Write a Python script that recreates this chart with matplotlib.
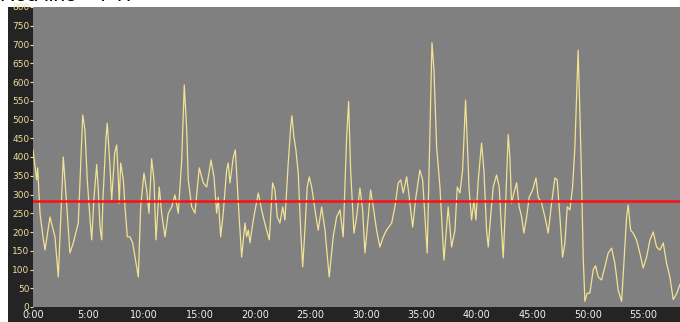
import matplotlib.pyplot as plt
from matplotlib.patches import Rectangle

# elapsed time (minutes) and power (watts)
minutes = [
    0.00, 0.33, 0.42, 0.63, 0.90, 1.08, 1.53, 1.98, 2.28, 2.73, 2.97, 3.33, 3.63, 4.08,
    4.48, 4.68, 4.89, 5.14, 5.29, 5.50, 5.74, 5.88, 6.04, 6.19, 6.31, 6.58, 6.69, 6.94,
    7.09, 7.36, 7.54, 7.68, 7.77, 7.90, 8.14, 8.29, 8.50, 8.74, 8.98, 9.28, 9.49, 9.70,
    10.00, 10.24, 10.45, 10.69, 10.90, 11.08, 11.38, 11.59, 11.89, 12.19, 12.50, 12.79,
    13.09, 13.40, 13.63, 13.85, 13.99, 14.30, 14.59, 14.98, 15.34, 15.65, 16.04, 16.31,
    16.55, 16.69, 16.91, 17.14, 17.45, 17.59, 17.75, 18.05, 18.23, 18.50, 18.80, 19.10,
    19.25, 19.40, 19.55, 19.85, 20.30, 20.60, 20.75, 21.05, 21.29, 21.59, 21.80, 22.01,
    22.25, 22.50, 22.70, 23.00, 23.22, 23.33, 23.51, 23.69, 23.90, 24.12, 24.30, 24.50,
    24.71, 24.89, 25.11, 25.41, 25.70, 26.01, 26.31, 26.69, 27.05, 27.36, 27.66, 27.95,
    28.26, 28.44, 28.62, 28.92, 29.16, 29.46, 29.70, 29.91, 30.21, 30.42, 30.66, 30.96,
    31.26, 31.56, 31.86, 32.32, 32.61, 32.91, 33.13, 33.36, 33.67, 33.90, 34.21, 34.50,
    34.86, 35.11, 35.32, 35.52, 35.77, 35.95, 36.13, 36.37, 36.67, 37.03, 37.41, 37.72,
    38.02, 38.23, 38.47, 38.71, 38.98, 39.12, 39.30, 39.52, 39.73, 39.91, 40.12, 40.42,
    40.63, 40.87, 41.02, 41.23, 41.47, 41.77, 42.01, 42.22, 42.37, 42.61, 42.82, 42.97,
    43.12, 43.33, 43.58, 43.81, 44.03, 44.23, 44.48, 44.71, 45.02, 45.32, 45.52, 45.83,
    46.13, 46.42, 46.73, 47.03, 47.23, 47.48, 47.72, 47.93, 48.14, 48.38, 48.62, 48.83,
    48.98, 49.12, 49.28, 49.43, 49.58, 49.73, 49.94, 50.18, 50.48, 50.69, 50.93, 51.23,
    51.53, 51.83, 52.14, 52.43, 52.73, 53.04, 53.24, 53.49, 53.63, 53.85, 54.08, 54.38,
    54.68, 54.98, 55.29, 55.59, 55.89, 56.19, 56.49, 56.79, 57.09, 57.39, 57.69, 57.99,
    58.29,
]
watts = [
    419, 339, 371, 250, 187, 152, 240, 187, 80, 400, 300, 144, 171, 224,
    512, 472, 339, 232, 179, 293, 380, 312, 213, 179, 293, 453, 490, 373,
    285, 411, 432, 347, 277, 384, 339, 267, 187, 187, 171, 117, 80, 267,
    357, 312, 250, 395, 339, 179, 320, 250, 187, 250, 267, 299,
    250, 392, 592, 472, 339, 267, 250, 371, 331, 320, 392, 347,
    250, 293, 187, 250, 365, 384, 331, 400, 419, 277, 133, 224,
    187, 205, 171, 232, 304, 259, 240, 205, 179, 331, 312, 240,
    224, 267, 232, 384, 480, 510, 453, 419, 357, 205, 107, 205,
    320, 347, 320, 259, 205, 267, 205, 80, 187, 240, 259, 187,
    453, 548, 365, 197, 240, 317, 259, 144, 240, 312, 267, 205,
    160, 187, 205, 224, 267, 331, 339, 304, 347, 293, 213, 293,
    365, 339, 240, 144, 472, 705, 632, 427, 320, 125, 267, 160,
    205, 320, 304, 365, 552, 445, 312, 232, 285, 232, 339, 437,
    365, 205, 160, 240, 320, 352, 320, 205, 131, 293, 460, 400,
    277, 304, 331, 267, 240, 197, 240, 293, 312, 344, 293, 277,
    240, 197, 277, 344, 339, 240, 133, 171, 267, 259, 320, 427,
    560, 685, 517, 339, 133, 15, 37, 37, 99, 110, 80, 72,
    107, 144, 157, 117, 45, 15, 117, 240, 272, 205, 197, 179,
    144, 104, 133, 179, 200, 160, 152, 171, 117, 80, 20, 35,
    60,
]
ftp = 282

y_ticks = list(range(0, 801, 50))
x_ticks = list(range(0, 56, 5))
x_labels = [f"{m}:00" for m in x_ticks]

fig = plt.figure(figsize=(6.8, 3.22), dpi=100)
fig.patch.set_facecolor("white")

# dark frame behind the tick labels (left column and bottom strip)
fig.add_artist(Rectangle((8 / 680, 0), 1 - 8 / 680, 315 / 322,
                         transform=fig.transFigure, facecolor="#242424",
                         edgecolor="none", zorder=0))

fig.text(0.0, 315 / 322 + 0.005, "Red line = FTP", fontsize=15,
         family="Liberation Sans", color="black", va="bottom", ha="left")

ax = fig.add_axes([33 / 680, 15 / 322, 1 - 33 / 680, 300 / 322])
ax.set_facecolor("#808080")
ax.plot(minutes, watts, color="#f2e294", linewidth=0.9)
ax.axhline(ftp, color="#ff1010", linewidth=1.8)

ax.set_xlim(0, 58.3)
ax.set_ylim(0, 800)
ax.set_yticks(y_ticks)
ax.set_xticks(x_ticks)
ax.set_xticklabels(x_labels)
for s in ax.spines.values():
    s.set_visible(False)

tick_font = ["Liberation Sans Narrow", "DejaVu Sans"]
ax.tick_params(axis="y", colors="#f0dc9c", length=2, width=0.8, pad=0.5,
               labelsize=6.5, direction="out")
ax.tick_params(axis="x", colors="#f0f0f0", length=0, pad=2, labelsize=7)
for lbl in ax.get_yticklabels() + ax.get_xticklabels():
    lbl.set_family(tick_font)

fig.savefig("out.png", dpi=100, facecolor="white")
